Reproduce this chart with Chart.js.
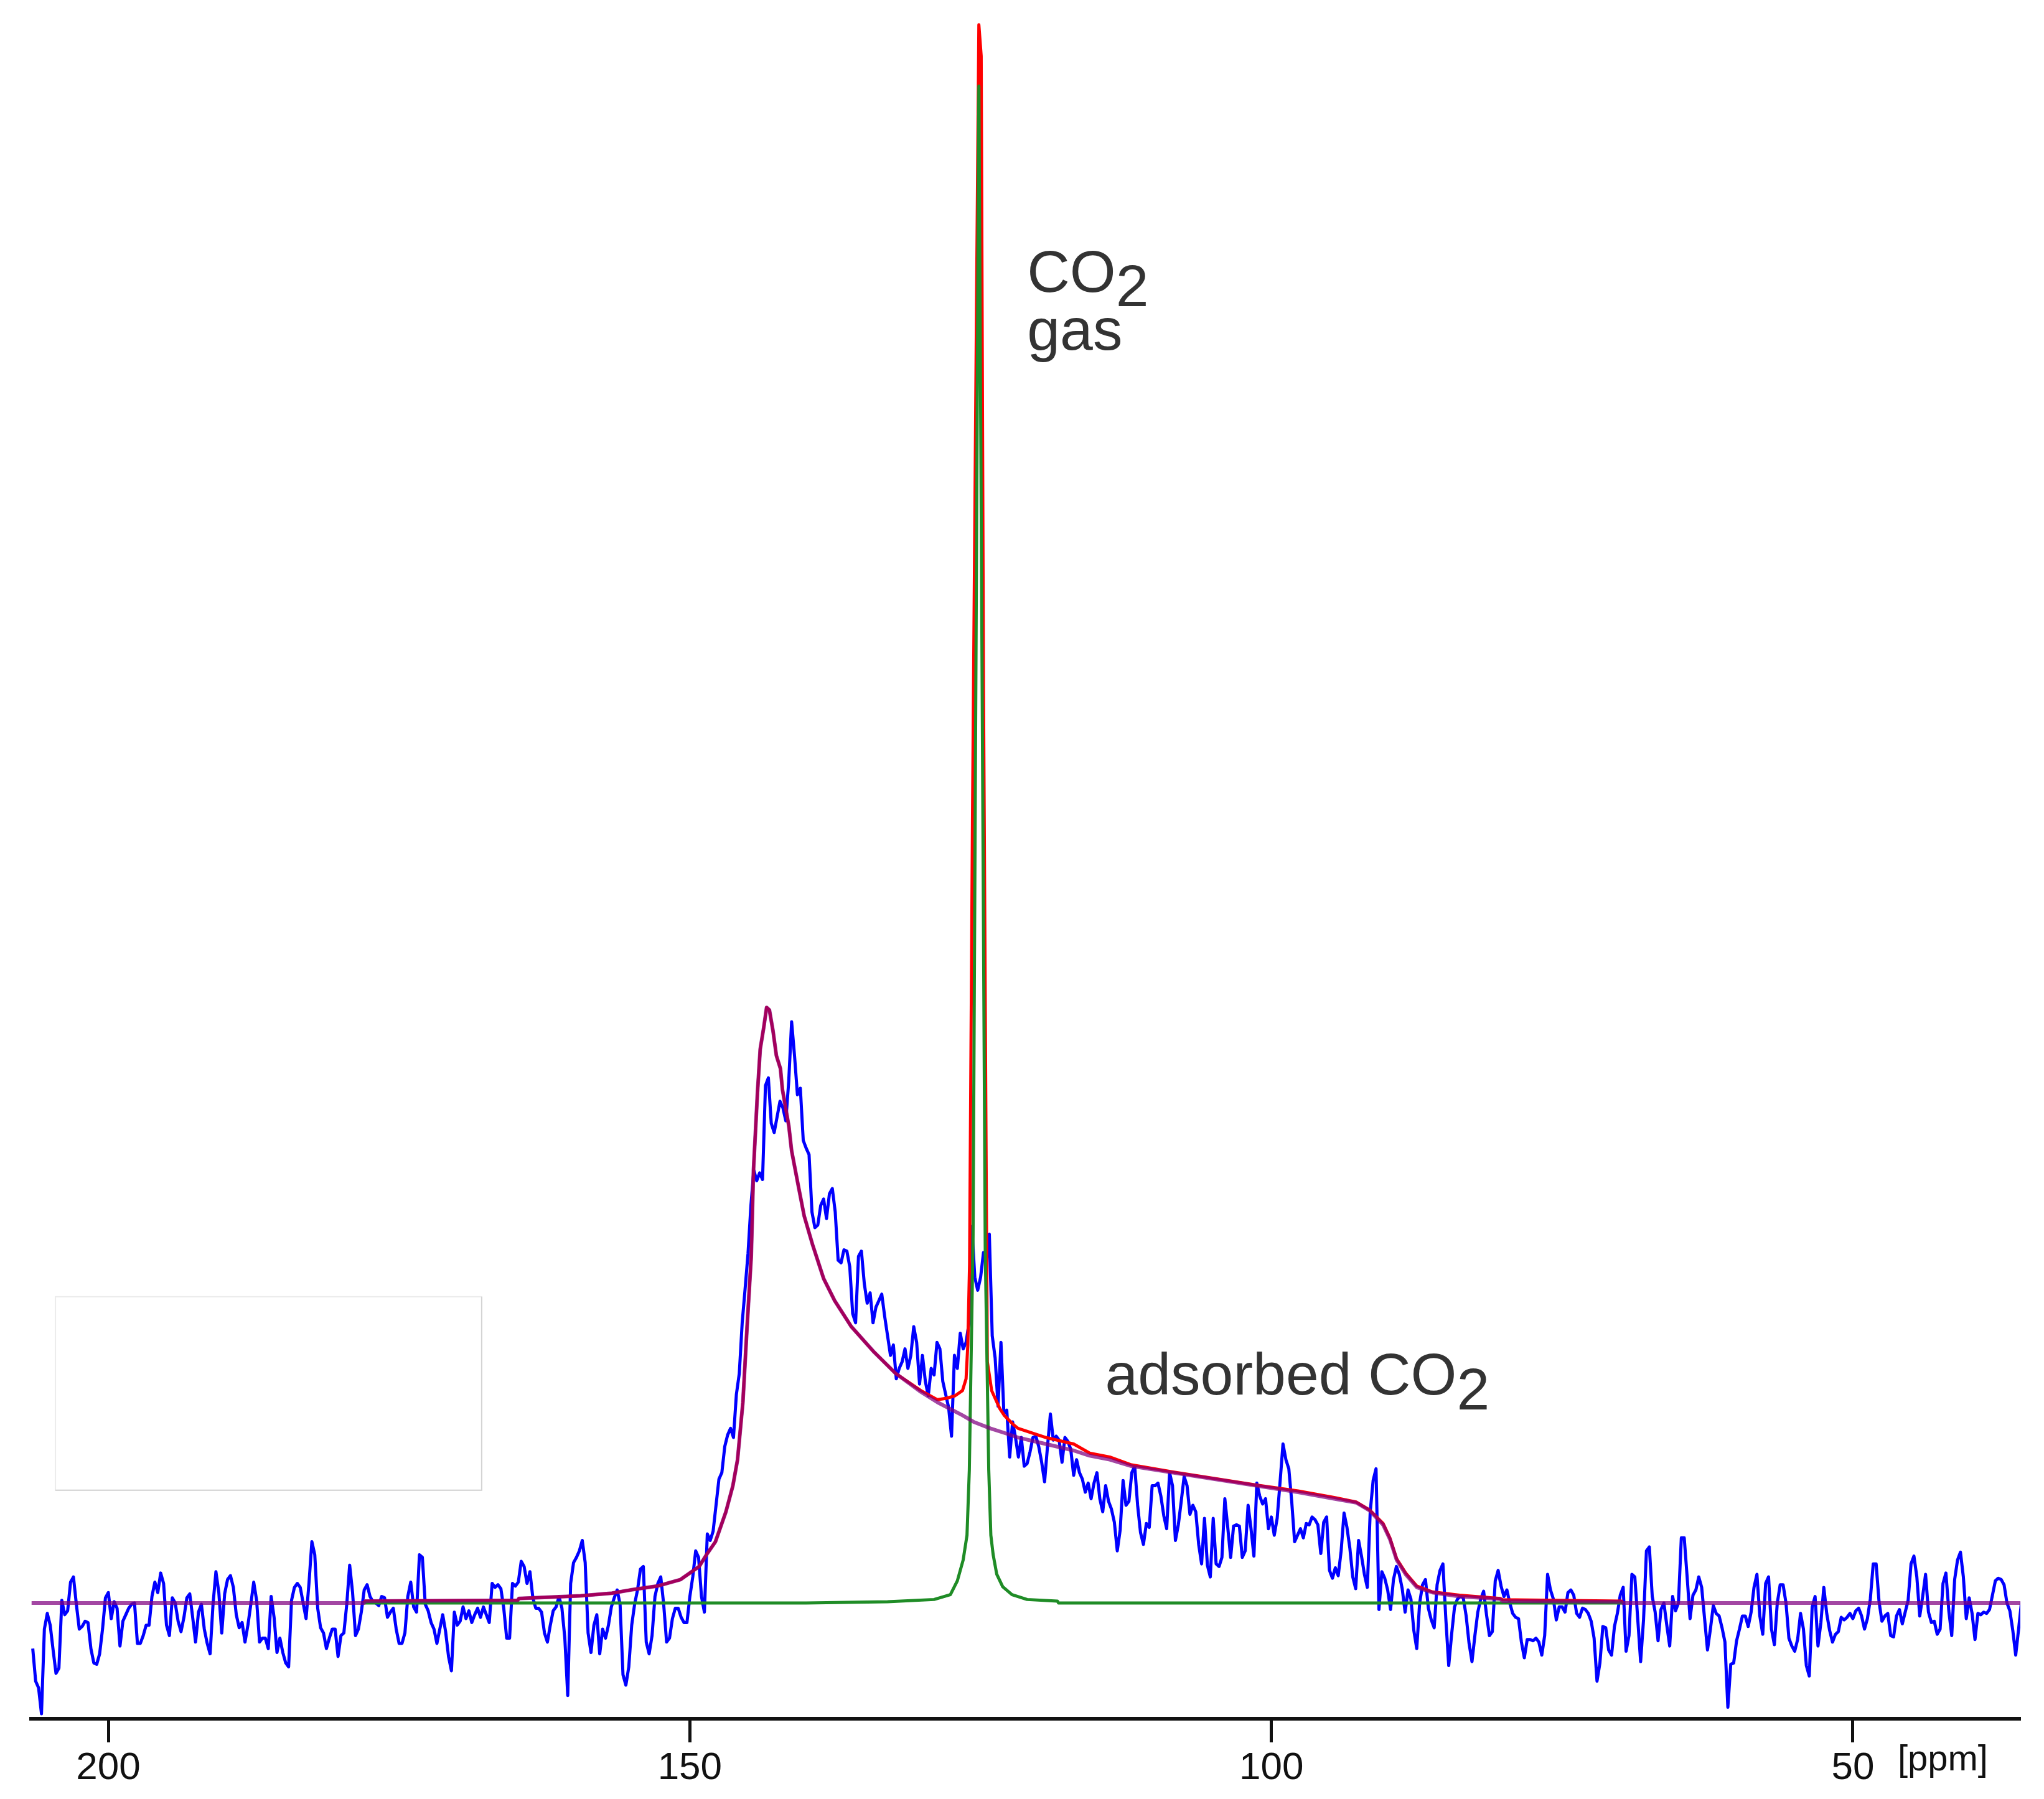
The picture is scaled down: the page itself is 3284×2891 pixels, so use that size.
<!DOCTYPE html>
<html>
<head>
<meta charset="utf-8">
<title>13C NMR - CO2 gas / adsorbed CO2</title>
<script src="https://cdn.jsdelivr.net/npm/chart.js@4.4.1/dist/chart.umd.min.js"></script>
<style>
  html, body { margin: 0; padding: 0; background: #fff; }
  canvas { display: block; }
</style>
</head>
<body>
<canvas id="nmrChart" width="3284" height="2891"></canvas>
<script>
// x axis ticks (ppm)
const tickValues = [200, 150, 100, 50];

// measured spectrum, sampled every 0.25 ppm starting at 206.5 ppm (intensity, a.u.)
const ppmStart = 206.5;
const ppmStep = 0.25;
const spectrum = [
  -35, -60, -65, -85, -20, -8, -17, -36, -54, -50,
  2, -9, -6, 16, 20, -1, -20, -18, -14, -15,
  -35, -46, -47, -39, -20, 4, 8, -12, 1, -4,
  -33, -14, -9, -4, -1, 0, -31, -31, -25, -17,
  -17, 5, 16, 8, 23, 15, -17, -25, 4, 0,
  -14, -22, -11, 4, 7, -11, -30, -7, -1, -20,
  -31, -39, -1, 24, 8, -23, 7, 18, 21, 12,
  -9, -19, -15, -30, -17, -1, 16, 2, -30, -27,
  -27, -35, 5, -11, -38, -27, -38, -46, -49, 2,
  12, 15, 12, 0, -12, 15, 47, 37, -4, -19,
  -23, -35, -27, -20, -20, -41, -25, -23, -1, 29,
  8, -25, -20, -7, 10, 14, 5, 1, 0, -2,
  5, 4, -11, -7, -4, -20, -31, -31, -23, 5,
  16, -3, -7, 37, 35, -1, -6, -15, -20, -31,
  -20, -9, -22, -41, -52, -7, -17, -14, -3, -12,
  -6, -15, -9, -4, -11, -3, -9, -15, 15, 12,
  14, 11, -4, -27, -27, 15, 13, 16, 32, 28,
  15, 24, 4, -4, -4, -7, -23, -30, -17, -6,
  -3, 5, -4, -27, -71, 15, 31, 35, 40, 48,
  31, -23, -38, -17, -9, -39, -20, -27, -17, -3,
  4, 10, -1, -55, -63, -49, -17, -1, 10, 26,
  28, -30, -39, -25, 5, 15, 20, -1, -30, -27,
  -12, -4, -4, -11, -15, -15, 5, 20, 40, 35,
  5, -7, 53, 48, 55, 75, 95, 100, 120, 129,
  134, 127, 160, 176, 215, 241, 268, 305, 332, 324,
  330, 325, 397, 403, 368, 361, 373, 385, 380, 370,
  400, 446, 420, 390, 395, 355, 349, 344, 300, 288,
  290, 305, 310, 295, 314, 318, 300, 263, 261, 271,
  270, 258, 222, 215, 266, 270, 245, 230, 238, 215,
  227, 232, 237, 220, 205, 190, 198, 172, 180, 185,
  195, 180, 190, 212, 200, 168, 190, 170, 159, 180,
  175, 200, 195, 170, 160, 150, 128, 190, 180, 207,
  195, 200, 215, 289, 250, 240, 250, 269, 262, 283,
  205, 188, 151, 200, 146, 148, 112, 139, 127, 112,
  127, 105, 107, 116, 127, 128, 120, 108, 93, 120,
  145, 125, 128, 125, 108, 127, 124, 118, 98, 110,
  100, 95, 85, 92, 80, 92, 100, 80, 70, 90,
  78, 72, 62, 40, 56, 94, 75, 78, 100, 105,
  75, 54, 45, 61, 58, 90, 90, 92, 82, 67,
  57, 100, 90, 48, 60, 78, 97, 90, 68, 75,
  70, 45, 30, 65, 29, 20, 65, 30, 28, 35,
  80, 58, 35, 59, 60, 59, 35, 40, 75, 57,
  36, 92, 82, 76, 80, 57, 66, 52, 65, 93,
  122, 110, 103, 78, 47, 52, 57, 50, 61, 60,
  66, 64, 60, 38, 62, 66, 25, 19, 27, 21,
  40, 69, 58, 42, 20, 11, 48, 36, 22, 12,
  70, 94, 103, -5, 24, 19, 10, -5, 18, 28,
  22, 11, -7, 10, 3, -21, -35, 0, 14, 18,
  -4, -13, -19, 14, 25, 30, -12, -48, -24, -3,
  3, 5, 4, -10, -31, -45, -25, -7, 3, 9,
  -9, -25, -22, 17, 25, 13, 5, 10, 0, -8,
  -11, -12, -30, -42, -28, -28, -29, -27, -30, -40,
  -25, 22, 10, 3, -13, -3, -3, -7, 8, 10,
  6, -8, -11, -4, -5, -8, -14, -27, -60, -46,
  -18, -19, -36, -40, -18, -8, 6, 12, -37, -25,
  22, 20, -12, -45, -13, 40, 43, 5, -7, -29,
  -5, 0, -17, -33, 5, -6, 0, 50, 50, 20,
  -12, 6, 10, 20, 12, -12, -36, -20, -2, -8,
  -10, -19, -30, -80, -47, -46, -29, -20, -10, -10,
  -18, -7, 12, 22, -10, -24, 15, 20, -20, -32,
  0, 14, 14, 0, -27, -33, -37, -28, -8, -20,
  -48, -56, -3, 5, -33, -15, 12, -8, -21, -30,
  -24, -22, -11, -13, -11, -8, -12, -6, -4, -10,
  -20, -12, 3, 30, 30, 1, -14, -10, -8, -25,
  -26, -10, -5, -16, -7, 2, 30, 36, 20, -10,
  5, 22, -7, -15, -14, -24, -20, 15, 23, -6,
  -25, 18, 33, 39, 20, -12, 4, -8, -28, -8,
  -9, -7, -8, -5, 6, 17, 19, 18, 14, 0,
  -6, -21, -40, -20, 1
];

// adsorbed CO2 component (powder pattern)
const adsorbedPpm = [206.6, 178, 177.9, 164.8, 164.7, 159.4, 156.7, 155.1, 152.8, 150.8,
  149.2, 148.5, 147.8, 146.9, 146.3, 145.9, 145.44, 145.08, 144.72, 144.53,
  144.19, 143.95, 143.64, 143.4, 143.16, 142.85, 142.56, 142.21, 142.04, 141.49,
  141.25, 140.65, 140.17, 139.45, 138.5, 137.55, 136.11, 134.21, 132.29, 130.14,
  128.71, 126.56, 125.6, 124.17, 122.78, 121.78, 119.39, 117.0, 115.62, 113.9,
  112.03, 108.46, 104.87, 101.29, 97.7, 94.6, 92.71, 91.56, 90.39, 89.81,
  89.23, 88.45, 87.49, 86.14, 83.82, 80.33, 80.13, 69.9, 69.8, 35.5];
const adsorbedY = [0, 0, 1.5, 2, 3.5, 5.5, 7.5, 10, 13, 18,
  28, 38, 47, 70, 90, 110, 154, 212, 266, 332,
  391, 425, 442, 457, 455, 439, 420, 410, 394, 366,
  347, 319, 297, 275, 249, 232, 212, 193, 176, 162,
  154, 144, 139, 134, 130, 127, 122, 117, 113, 110,
  105, 100, 95, 90, 85, 80, 77, 71, 60, 49,
  33, 22, 12, 8, 5, 3, 1.5, 1, 0, 0];

// total fit (gas + adsorbed)
const totalFitPpm = [178, 177.9, 164.8, 164.7, 159.4, 156.7, 155.1, 152.8, 150.8, 149.2,
  148.5, 147.8, 146.9, 146.3, 145.9, 145.44, 145.08, 144.72, 144.53, 144.19,
  143.95, 143.64, 143.4, 143.16, 142.85, 142.56, 142.21, 142.04, 141.49, 141.25,
  140.65, 140.17, 139.45, 138.5, 137.55, 136.11, 134.21, 132.29, 130.14, 128.71,
  128.0, 127.2, 126.56, 126.25, 126.1, 125.95, 125.7, 125.35, 125.15, 124.95,
  124.75, 124.5, 124.42, 124.05, 123.34, 122.97, 122.2, 121.78, 119.39, 117.0,
  115.62, 113.9, 112.03, 108.46, 104.87, 101.29, 97.7, 94.6, 92.71, 91.56,
  90.39, 89.81, 89.23, 88.45, 87.49, 86.14, 83.82, 80.33, 80.13, 69.9, 69.8];
const totalFitY = [0, 1.5, 2, 3.5, 5.5, 7.5, 10, 13, 18, 28,
  38, 47, 70, 90, 110, 154, 212, 266, 332, 391,
  425, 442, 457, 455, 439, 420, 410, 394, 366, 347,
  319, 297, 275, 249, 232, 212, 193, 176, 163, 156,
  157, 159, 163, 172, 198, 260, 600, 1000, 1211, 1187,
  700, 300, 185, 163, 149, 144, 137, 134, 127, 122,
  115, 112, 106, 100.5, 95.5, 90.5, 86, 81, 77.5, 71.5,
  61, 50, 34, 23, 13, 8.5, 6, 3.5, 2.5, 1.5, 0];

// CO2 gas component (narrow line)
const gasPpm = [178, 140, 133, 129.0, 127.6, 127.0, 126.5, 126.17, 125.97, 125.65, 125.15,
  124.6, 124.3, 124.12, 123.92, 123.61, 123.1, 122.3, 121.0, 118.4, 118.3, 69.8];
const gasY = [0, 0, 1, 2.7, 6.4, 17, 33, 52, 102, 280, 1164,
  270, 102, 52, 37, 22, 12.5, 6.4, 2.7, 1.5, 0, 0];

// label anchors in data units (ppm, intensity)
const gasLabel = { ppm: 121.0, y: 1006 };
const adsorbedLabel = { ppm: 114.3, y: 160 };
const emptyBox = { ppm: [204.55, 167.9], y: [86.5, 235] };

const FONT = '"Liberation Sans", Arial, Helvetica, sans-serif';

function toPoints(xs, ys) {
  return xs.map((x, i) => ({ x: x, y: ys[i] }));
}

const spectrumPoints = spectrum.map((v, i) => ({ x: ppmStart - i * ppmStep, y: v }));

// text labels, [ppm] unit and the faint empty frame
const annotationPlugin = {
  id: 'nmrAnnotations',
  afterDatasetsDraw(chart) {
    const { ctx, chartArea } = chart;
    const x = chart.scales.x;
    const y = chart.scales.y;
    ctx.save();

    // empty frame left of the big peak
    const bx1 = x.getPixelForValue(emptyBox.ppm[0]);
    const bx2 = x.getPixelForValue(emptyBox.ppm[1]);
    const by1 = y.getPixelForValue(emptyBox.y[1]);
    const by2 = y.getPixelForValue(emptyBox.y[0]);
    ctx.lineWidth = 2;
    ctx.strokeStyle = '#ececec';
    ctx.strokeRect(bx1, by1, bx2 - bx1, by2 - by1);
    ctx.strokeStyle = '#d4d4d4';
    ctx.beginPath();
    ctx.moveTo(bx2, by1);
    ctx.lineTo(bx2, by2);
    ctx.lineTo(bx1, by2);
    ctx.stroke();

    ctx.fillStyle = '#333333';
    ctx.textAlign = 'left';
    ctx.textBaseline = 'alphabetic';
    ctx.font = '95px ' + FONT;

    // CO2 gas
    let px = x.getPixelForValue(gasLabel.ppm);
    let py = y.getPixelForValue(gasLabel.y);
    ctx.fillText('CO', px, py);
    ctx.fillText('2', px + ctx.measureText('CO').width, py + 23);
    ctx.fillText('gas', px, py + 93);

    // adsorbed CO2
    px = x.getPixelForValue(adsorbedLabel.ppm);
    py = y.getPixelForValue(adsorbedLabel.y);
    ctx.fillText('adsorbed CO', px, py);
    ctx.fillText('2', px + ctx.measureText('adsorbed CO').width, py + 24);

    // unit next to the last tick
    ctx.fillStyle = '#111111';
    ctx.font = '58px ' + FONT;
    ctx.fillText('[ppm]', x.getPixelForValue(50) + 72, chartArea.bottom + 83);

    ctx.restore();
  }
};

new Chart(document.getElementById('nmrChart').getContext('2d'), {
  type: 'line',
  data: {
    datasets: [
      {
        label: 'adsorbed CO2',
        data: toPoints(adsorbedPpm, adsorbedY),
        borderColor: 'rgba(128,0,128,0.72)',
        borderWidth: 6,
        order: 1
      },
      {
        label: 'CO2 gas',
        data: toPoints(gasPpm, gasY),
        borderColor: '#1f8c26',
        borderWidth: 5,
        order: 2
      },
      {
        label: 'total fit',
        data: toPoints(totalFitPpm, totalFitY),
        borderColor: '#ff0000',
        borderWidth: 5,
        order: 3
      },
      {
        label: 'spectrum',
        data: spectrumPoints,
        borderColor: '#0000ff',
        borderWidth: 5,
        order: 4
      }
    ]
  },
  options: {
    responsive: false,
    animation: false,
    devicePixelRatio: 1,
    layout: { padding: { left: 50, right: 38, top: 30, bottom: 0 } },
    elements: {
      point: { radius: 0 },
      line: { tension: 0, borderJoinStyle: 'round', fill: false }
    },
    plugins: {
      legend: { display: false },
      tooltip: { enabled: false }
    },
    scales: {
      x: {
        type: 'linear',
        reverse: true,
        min: 35.6,
        max: 206.64,
        afterBuildTicks: axis => {
          axis.ticks = tickValues.map(v => ({ value: v }));
        },
        afterFit: axis => {
          axis.height = 129;
        },
        grid: {
          display: true,
          drawOnChartArea: false,
          drawTicks: true,
          tickLength: 38,
          tickWidth: 5,
          tickColor: '#111111'
        },
        border: { display: true, color: '#111111', width: 6 },
        ticks: {
          autoSkip: false,
          maxRotation: 0,
          minRotation: 0,
          padding: 5,
          color: '#111111',
          font: { family: FONT, size: 62 },
          callback: v => String(v)
        }
      },
      y: {
        display: false,
        min: -88.8,
        max: 1215.7
      }
    }
  },
  plugins: [annotationPlugin]
});
</script>
</body>
</html>
